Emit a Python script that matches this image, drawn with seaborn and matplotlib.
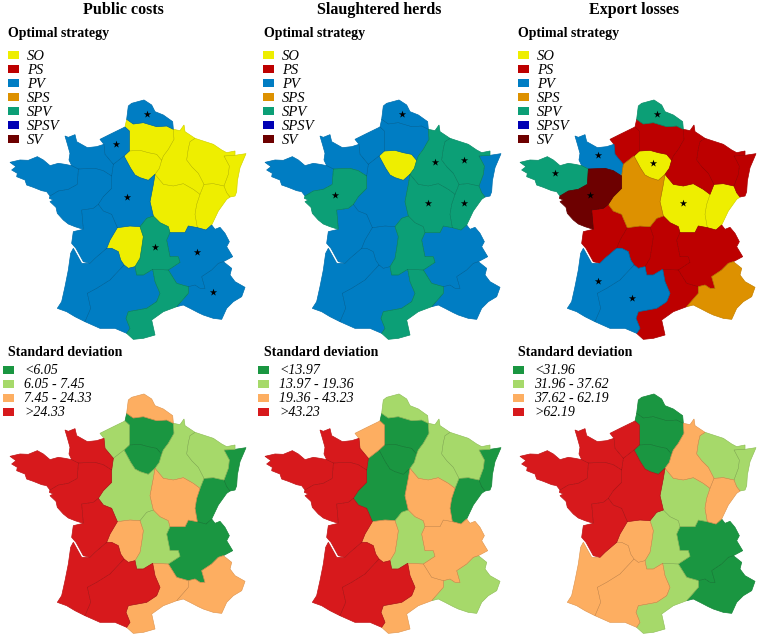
import pandas as pd
import matplotlib
matplotlib.use("Agg")
import matplotlib.pyplot as plt
from matplotlib.patches import Polygon, Rectangle
import seaborn as sns

# region outlines (units: 1/3 pixel of the first map)
NPC = [(432,300),(395,310),(385,318),(380,358),(400,372),(430,368),(470,380),(500,378),(520,388),(518,365),(490,345),(465,335),(455,315)]
PIC = [(375,381),(380,358),(400,372),(430,368),(470,380),(500,378),(520,388),(522,418),(505,448),(490,468),(485,481),(470,463),(445,458),(420,451),(388,453),(388,393)]
HN = [(300,418),(330,403),(375,381),(388,393),(388,453),(372,468),(340,493),(315,463),(312,433)]
IDF = [(372,468),(388,453),(420,451),(445,458),(470,463),(485,481),(478,505),(465,523),(445,541),(420,533),(405,525),(392,505)]
CHA = [(520,388),(540,392),(552,375),(555,395),(585,415),(570,425),(565,445),(560,480),(575,500),(595,520),(612,553),(600,583),(580,568),(550,551),(520,558),(490,553),(465,523),(478,505),(485,481),(490,468),(505,448),(522,418)]
LOR = [(585,415),(600,420),(640,433),(665,450),(680,458),(705,453),(705,466),(672,468),(688,498),(685,523),(672,558),(640,551),(612,553),(595,520),(575,500),(560,480),(565,445),(570,425)]
ALS = [(672,468),(705,466),(738,461),(720,503),(712,543),(710,575),(705,588),(690,591),(680,578),(672,558),(685,523),(688,498)]
BOU = [(465,523),(490,553),(520,558),(550,551),(580,568),(600,583),(590,613),(585,643),(592,683),(565,678),(555,698),(510,698),(505,680),(480,668),(460,648),(450,605),(460,553)]
FC = [(612,553),(640,551),(672,558),(680,578),(690,591),(680,598),(655,633),(635,675),(618,690),(592,683),(585,643),(590,613),(600,583)]
CEN = [(372,468),(392,505),(405,525),(420,533),(445,541),(465,523),(460,553),(450,605),(460,648),(440,655),(420,680),(390,678),(352,683),(335,643),(310,633),(295,613),(310,590),(335,565),(335,528),(340,493)]
BN = [(195,408),(205,412),(225,404),(230,425),(262,443),(290,440),(312,433),(315,463),(340,493),(335,528),(310,512),(285,505),(235,507),(215,497),(207,480),(210,460),(203,435)]
BRE = [(30,487),(60,480),(85,481),(112,470),(130,480),(150,497),(175,490),(195,493),(215,497),(235,507),(232,553),(205,568),(175,573),(150,588),(140,575),(125,572),(100,562),(80,555),(75,540),(50,530),(52,520),(35,510),(48,500)]
PDL = [(235,507),(285,505),(310,512),(335,528),(335,565),(310,590),(295,613),(280,625),(245,630),(250,688),(225,680),(205,672),(190,660),(172,640),(168,622),(150,605),(160,600),(148,595),(150,588),(175,573),(205,568),(232,553)]
POI = [(245,630),(280,625),(295,613),(310,633),(335,643),(352,683),(330,720),(320,745),(285,775),(270,790),(250,785),(228,745),(215,730),(220,695),(250,688)]
LIM = [(352,683),(390,678),(420,680),(430,710),(425,745),(420,775),(405,800),(385,805),(372,795),(362,780),(355,755),(335,745),(320,745),(330,720)]
AUV = [(420,680),(440,655),(460,648),(480,668),(505,680),(510,698),(500,720),(510,770),(535,770),(540,787),(505,810),(458,808),(430,825),(410,825),(405,800),(420,775),(425,745),(430,710)]
AQU = [(270,790),(285,775),(320,745),(335,745),(355,755),(362,780),(372,795),(330,840),(290,865),(262,880),(272,925),(255,965),(225,950),(200,935),(172,925),(185,905),(195,860),(205,810),(212,760),(220,745),(245,790)]
MID = [(372,795),(385,805),(405,800),(410,825),(430,825),(458,808),(465,845),(480,880),(470,905),(440,925),(385,935),(378,955),(390,985),(380,1000),(345,985),(300,985),(255,965),(272,925),(262,880),(290,865),(330,840)]
LAN = [(458,808),(505,810),(530,850),(565,860),(565,880),(530,920),(490,935),(455,960),(465,1005),(430,1015),(400,1018),(380,1000),(390,985),(378,955),(385,935),(440,925),(470,905),(480,880),(465,845)]
RHO = [(510,698),(555,698),(565,678),(592,683),(618,690),(635,675),(645,688),(660,682),(675,700),(688,725),(680,740),(698,770),(670,785),(655,790),(635,810),(605,830),(615,865),(600,865),(585,855),(565,860),(530,850),(505,810),(540,787),(535,770),(510,770),(500,720)]
PAC = [(565,860),(585,855),(600,865),(615,865),(605,830),(635,810),(655,790),(670,785),(695,805),(690,825),(705,845),(735,862),(725,890),(700,905),(680,925),(665,958),(640,955),(610,945),(595,938),(570,925),(550,915),(530,920),(565,880)]

regions = {"NPC": NPC, "PIC": PIC, "HN": HN, "IDF": IDF, "CHA": CHA, "LOR": LOR, "ALS": ALS,
           "BOU": BOU, "FC": FC, "CEN": CEN, "BN": BN, "BRE": BRE, "PDL": PDL, "POI": POI,
           "LIM": LIM, "AUV": AUV, "AQU": AQU, "MID": MID, "LAN": LAN, "RHO": RHO, "PAC": PAC}

# where each region carries its star
star_x = {"NPC": 441, "HN": 349, "CEN": 381, "AUV": 466, "RHO": 590, "PAC": 638, "PDL": 241,
          "CHA": 540, "LOR": 627, "BOU": 519, "FC": 628, "BN": 265, "IDF": 429, "BRE": 134,
          "AQU": 265, "MID": 365}
star_y = {"NPC": 343, "HN": 432, "CEN": 590, "AUV": 740, "RHO": 756, "PAC": 876, "PDL": 585,
          "CHA": 485, "LOR": 481, "BOU": 608, "FC": 608, "BN": 466, "IDF": 489, "BRE": 520,
          "AQU": 844, "MID": 894}

titles = ["Public costs", "Slaughtered herds", "Export losses"]
title_x = [123, 379, 634]
strategies = ["SO", "PS", "PV", "SPS", "SPV", "SPSV", "SV"]
strategy_colors = ["#eeee00", "#bd0000", "#007dc3", "#dd9100", "#0c9f76", "#0000b4", "#6d0000"]
sd_colors = ["#1a9641", "#a6d96a", "#fdae61", "#d7191c"]

sd_labels = [["<6.05", "6.05 - 7.45", "7.45 - 24.33", ">24.33"],
             ["<13.97", "13.97 - 19.36", "19.36 - 43.23", ">43.23"],
             ["<31.96", "31.96 - 37.62", "37.62 - 62.19", ">62.19"]]

strategy_public = {"SO": ["PIC", "IDF", "CHA", "LOR", "ALS", "BOU", "FC", "LIM"],
                   "PV": ["NPC", "HN", "BN", "BRE", "PDL", "CEN", "POI", "AQU", "MID", "RHO", "PAC"],
                   "SPV": ["AUV", "LAN"]}
strategy_herds = {"SO": ["IDF"],
                  "PV": ["NPC", "HN", "PIC", "BN", "BRE", "CEN", "POI", "LIM", "AQU", "MID", "RHO", "PAC", "ALS"],
                  "SPV": ["PDL", "CHA", "LOR", "BOU", "FC", "AUV", "LAN"]}
strategy_export = {"SO": ["IDF", "BOU", "FC"],
                   "PS": ["HN", "PIC", "CHA", "LOR", "ALS", "POI", "LIM", "AUV", "RHO", "LAN"],
                   "PV": ["BN", "AQU", "MID"],
                   "SPS": ["CEN", "PAC"],
                   "SPV": ["NPC", "BRE"],
                   "SV": ["PDL"]}
strategy_maps = [strategy_public, strategy_herds, strategy_export]

stars_public = ["NPC", "HN", "CEN", "AUV", "RHO", "PAC"]
stars_herds = ["NPC", "PDL", "CHA", "LOR", "BOU", "FC"]
stars_export = ["NPC", "BN", "IDF", "BRE", "PDL", "BOU", "AQU", "MID"]
star_lists = [stars_public, stars_herds, stars_export]

# quartile class of each region: 0 lowest .. 3 highest
sd_public = {0: ["PIC", "IDF", "FC", "ALS", "RHO"], 1: ["HN", "CHA", "LOR", "CEN", "AUV"],
             2: ["NPC", "BOU", "LIM", "LAN", "PAC"], 3: ["BN", "BRE", "PDL", "POI", "AQU", "MID"]}
sd_herds = {0: ["PIC", "IDF", "CEN", "FC", "ALS"], 1: ["NPC", "CHA", "LOR", "AUV", "PAC"],
            2: ["HN", "BOU", "LIM", "RHO", "LAN"], 3: ["BN", "BRE", "PDL", "POI", "AQU", "MID"]}
sd_export = {0: ["NPC", "PIC", "IDF", "RHO", "PAC"], 1: ["LOR", "ALS", "BOU", "AUV", "LAN"],
             2: ["CHA", "FC", "LIM", "AQU", "MID"], 3: ["HN", "BN", "BRE", "PDL", "CEN", "POI"]}
sd_maps = [sd_public, sd_herds, sd_export]

x_offsets = [0, 255, 510]
y_offset_low = 294

sns.set_theme(style="white")
plt.rcParams["font.family"] = ["Liberation Serif", "DejaVu Serif"]

strategy_pal = dict(zip(strategies, sns.color_palette(strategy_colors)))
sd_pal = sns.color_palette(sd_colors)

fig = plt.figure(figsize=(7.6, 6.37), dpi=100)
ax = fig.add_axes([0, 0, 1, 1])
ax.set_xlim(0, 760)
ax.set_ylim(637, 0)
ax.axis("off")


def draw_map(fills, dx, dy):
    # fill first, so the seams between regions close up, then the thin borders
    for name, color in fills.items():
        pts = [(x / 3 + dx, y / 3 + dy) for x, y in regions[name]]
        ax.add_patch(Polygon(pts, closed=True, facecolor=color, edgecolor=color, linewidth=0.5))
    for name, color in fills.items():
        pts = [(x / 3 + dx, y / 3 + dy) for x, y in regions[name]]
        ax.add_patch(Polygon(pts, closed=True, facecolor="none", edgecolor=(0, 0, 0, 0.16),
                             linewidth=0.3, joinstyle="round"))


for i in range(3):
    dx = x_offsets[i]

    fills = {}
    for key, names in strategy_maps[i].items():
        for name in names:
            fills[name] = strategy_pal[key]
    draw_map(fills, dx, 0)

    fills = {}
    for key, names in sd_maps[i].items():
        for name in names:
            fills[name] = sd_pal[key]
    draw_map(fills, dx, y_offset_low)

    stars = pd.DataFrame({"x": [star_x[n] / 3 + dx for n in star_lists[i]],
                          "y": [star_y[n] / 3 for n in star_lists[i]]})
    sns.scatterplot(data=stars, x="x", y="y", ax=ax, marker="*", s=30, color="black",
                    linewidth=0, zorder=5, legend=False)

    ax.text(title_x[i], 10.5, titles[i], ha="center", va="center", fontsize=11.5,
            fontweight="bold", color="black")

    ax.text(dx + 8.5, 34, "Optimal strategy", ha="left", va="center", fontsize=10,
            fontweight="bold", color="black")
    for j, key in enumerate(strategies):
        y = 55 + 14 * j
        ax.add_patch(Rectangle((dx + 8, y - 4), 10.5, 8, facecolor=strategy_pal[key], edgecolor="none"))
        ax.text(dx + 27, y + 1, key, ha="left", va="center", fontsize=10.5, style="italic", color="black")

    ax.text(dx + 8.5, 353, "Standard deviation", ha="left", va="center", fontsize=10,
            fontweight="bold", color="black")
    for j, label in enumerate(sd_labels[i]):
        y = 370 + 14 * j
        ax.add_patch(Rectangle((dx + 3, y - 4), 10.5, 8, facecolor=sd_pal[j], edgecolor="none"))
        ax.text(dx + 24, y + 1, label, ha="left", va="center", fontsize=10, style="italic", color="black")

fig.savefig("out.png", dpi=100)
